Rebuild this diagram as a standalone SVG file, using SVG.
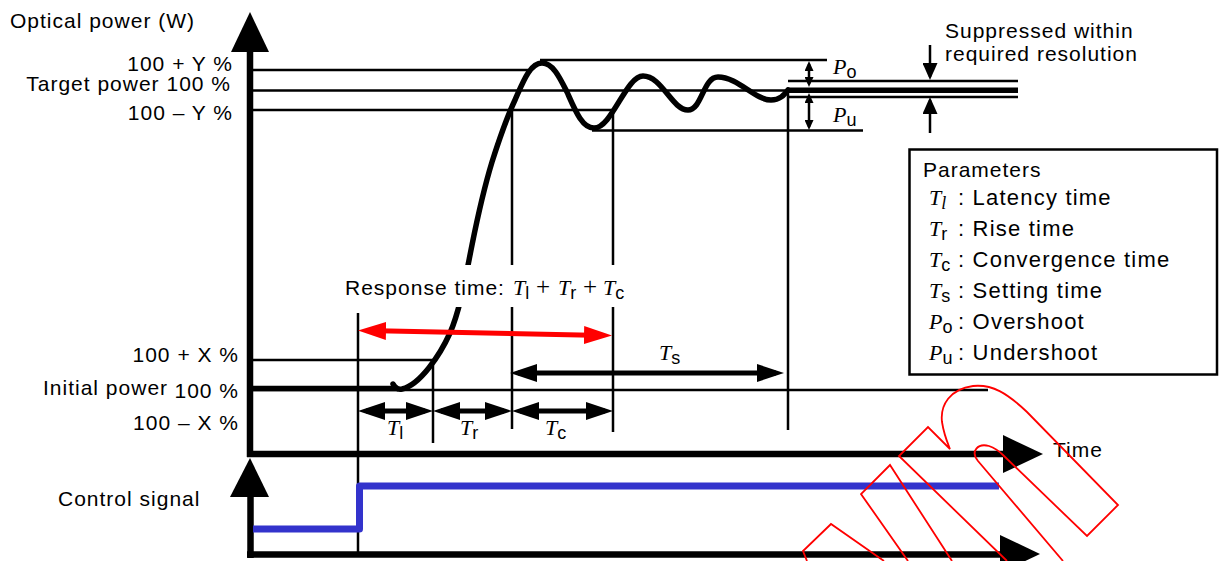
<svg xmlns="http://www.w3.org/2000/svg" width="1219" height="561" viewBox="0 0 1219 561">
<style>
.s{font-family:"Liberation Sans",Arial,sans-serif;font-size:21px;letter-spacing:1px;fill:#000}
.p{font-size:22px;letter-spacing:1.2px}
.i{font-family:"Liberation Serif","Times New Roman",serif;font-style:italic;font-size:22px;letter-spacing:0}
.pl{font-family:"Liberation Serif","Times New Roman",serif;font-style:normal;font-size:25px;letter-spacing:0}
.sub{font-size:18px}
.subs{font-family:"Liberation Sans",Arial,sans-serif;font-style:normal;font-size:18px;letter-spacing:0}
.thin{stroke:#000;stroke-width:2.5;fill:none}
.thick{stroke:#000;stroke-width:5.5;fill:none}
.axis{stroke:#000;stroke-width:6.5;fill:none}
.big{stroke:#000;stroke-width:5;fill:none;marker-start:url(#ab);marker-end:url(#ab)}
.red{stroke:#ff0000;stroke-width:5;fill:none;marker-start:url(#ar);marker-end:url(#ar)}
.wm{stroke:#ff0000;stroke-width:1.8;fill:none;stroke-linejoin:miter}
</style>
<defs>
<marker id="ab" markerUnits="userSpaceOnUse" markerWidth="27" markerHeight="18" viewBox="0 0 27 18" refX="19" refY="9" orient="auto-start-reverse"><path d="M0,0L27,9L0,18z" fill="#000"/></marker>
<marker id="ar" markerUnits="userSpaceOnUse" markerWidth="28" markerHeight="18" viewBox="0 0 28 18" refX="20" refY="9" orient="auto-start-reverse"><path d="M0,0L28,9L0,18z" fill="#ff0000"/></marker>
<marker id="as" markerUnits="userSpaceOnUse" markerWidth="10" markerHeight="9" viewBox="0 0 10 9" refX="7" refY="4.5" orient="auto-start-reverse"><path d="M0,0L10,4.5L0,9z" fill="#000"/></marker>
<marker id="am" markerUnits="userSpaceOnUse" markerWidth="17" markerHeight="15" viewBox="0 0 17 15" refX="14" refY="7.5" orient="auto"><path d="M0,0L17,7.5L0,15z" fill="#000"/></marker>
</defs>

<g id="axes">
<line class="axis" x1="250" y1="48" x2="250" y2="457"/>
<line class="axis" x1="247" y1="454" x2="1005" y2="454"/>
<polygon points="250,12 231,52 269,52" fill="#000"/>
<polygon points="1003,435 1043,454 1003,473" fill="#000"/>
<line class="axis" x1="250.5" y1="494" x2="250.5" y2="558" stroke-width="7"/>
<line class="axis" x1="247" y1="554.5" x2="1002" y2="554.5" stroke-width="7"/>
<polygon points="250,458 230,497 269,497" fill="#000"/>
<polygon points="1000,535 1040,554 1000,573" fill="#000"/>
</g>

<g id="levels">
<line class="thin" x1="253" y1="70" x2="528" y2="70"/>
<line class="thin" x1="253" y1="90.5" x2="1018" y2="90.5"/>
<line class="thin" x1="253" y1="110" x2="613" y2="110"/>
<line class="thin" x1="540" y1="60" x2="827" y2="60"/>
<line class="thin" x1="592" y1="130.5" x2="863" y2="130.5"/>
<line class="thin" x1="788" y1="81" x2="1018" y2="81"/>
<line class="thin" x1="788" y1="97" x2="1018" y2="97"/>
<line class="thick" x1="788" y1="90.3" x2="1018" y2="90.3" stroke-width="6"/>
<line class="thin" x1="253" y1="360" x2="433" y2="360"/>
<line class="thin" x1="253" y1="390" x2="988" y2="390"/>
<line class="thick" x1="253" y1="388.5" x2="398" y2="388.5"/>
</g>

<g id="verticals">
<line class="thin" x1="358" y1="313" x2="358" y2="557"/>
<line class="thin" x1="433" y1="360" x2="433" y2="443"/>
<line class="thin" x1="512" y1="110" x2="512" y2="429"/>
<line class="thin" x1="613" y1="110" x2="613" y2="432"/>
<line class="thin" x1="788" y1="90" x2="788" y2="430"/>
</g>

<g id="curve">
<path class="thick" stroke-width="5" stroke-linecap="round" d="M393,384 Q396,390 402,389 C420,385 440,355 450,333 C460,310 465,280 472,245 C478,215 485,185 492,162 C500,137 507,117 515,100 C523,82 530,63 542,63 C553,63 560,78 567,92 C575,110 582,128 594,128 C612,128 626,76 643,76 C662,76 672,110 688,110 C702,110 703,77 718,77 C738,77 755,100 771,100 C780,100 784,95 788,90"/>
</g>

<g id="response-label">
<rect x="338" y="265" width="300" height="42" fill="#fff"/>
<text class="s" x="345" y="295">Response time: <tspan class="i" x="513">T</tspan><tspan class="subs" dy="4">l</tspan><tspan class="pl" x="536" dy="-4">+</tspan><tspan class="i" x="558">T</tspan><tspan class="subs" dy="4">r</tspan><tspan class="pl" x="583" dy="-4">+</tspan><tspan class="i" x="603">T</tspan><tspan class="subs" dy="4">c</tspan></text>
</g>

<g id="connectors">
<line class="red" x1="366" y1="330.6" x2="604" y2="335.4"/>
<line class="big" x1="518" y1="373" x2="776" y2="373"/>
<line class="big" x1="366" y1="411" x2="425" y2="411"/>
<line class="big" x1="441" y1="411" x2="504" y2="411"/>
<line class="big" x1="520" y1="411" x2="605" y2="411"/>
<line class="thin" x1="809" y1="64" x2="809" y2="84" marker-start="url(#as)" marker-end="url(#as)"/>
<line class="thin" x1="809" y1="96" x2="809" y2="127" marker-start="url(#as)" marker-end="url(#as)"/>
<line class="thin" x1="930" y1="45" x2="930" y2="77" marker-end="url(#am)"/>
<line class="thin" x1="930" y1="133" x2="930" y2="100" marker-end="url(#am)"/>
</g>

<g id="control-signal">
<path d="M253,529 L359.5,529 L359.5,486 L999,486" fill="none" stroke="#3333cc" stroke-width="7" stroke-linejoin="round"/>
</g>

<g id="labels">
<text class="s" x="10" y="28">Optical power (W)</text>
<text class="s" x="233" y="71" text-anchor="end">100 + Y %</text>
<text class="s" x="231" y="91" text-anchor="end">Target power 100 %</text>
<text class="s" x="233" y="120" text-anchor="end">100 – Y %</text>
<text class="s" x="239" y="362" text-anchor="end">100 + X %</text>
<text class="s" x="43" y="395">Initial power</text>
<text class="s" x="239" y="398" text-anchor="end">100 %</text>
<text class="s" x="239" y="430" text-anchor="end">100 – X %</text>
<text class="s" x="58" y="506">Control signal</text>
<text class="s" x="1053" y="457">Time</text>
<text class="s" x="945" y="38">Suppressed within</text>
<text class="s" x="945" y="61">required resolution</text>
<text class="s" x="833" y="74"><tspan class="i">P</tspan><tspan class="subs" dy="4">o</tspan></text>
<text class="s" x="833" y="122"><tspan class="i">P</tspan><tspan class="subs" dy="4">u</tspan></text>
<text class="s" x="659" y="360"><tspan class="i">T</tspan><tspan class="subs" dy="4">s</tspan></text>
<text class="s" x="387" y="435"><tspan class="i">T</tspan><tspan class="subs" dy="4">l</tspan></text>
<text class="s" x="460" y="435"><tspan class="i">T</tspan><tspan class="subs" dy="4">r</tspan></text>
<text class="s" x="545" y="435"><tspan class="i">T</tspan><tspan class="subs" dy="4">c</tspan></text>
</g>

<g id="parameters">
<rect x="909.5" y="149.5" width="307.5" height="225" fill="#fff" stroke="#000" stroke-width="2.5"/>
<text class="s" x="923" y="177">Parameters</text>
<text class="s p" x="929" y="205"><tspan class="i">T</tspan><tspan class="i sub" dy="4">l</tspan><tspan x="958" dy="-4">: Latency time</tspan></text>
<text class="s p" x="929" y="236"><tspan class="i">T</tspan><tspan class="subs" dy="4">r</tspan><tspan x="958" dy="-4">: Rise time</tspan></text>
<text class="s p" x="929" y="267"><tspan class="i">T</tspan><tspan class="subs" dy="4">c</tspan><tspan x="958" dy="-4">: Convergence time</tspan></text>
<text class="s p" x="929" y="298"><tspan class="i">T</tspan><tspan class="subs" dy="4">s</tspan><tspan x="958" dy="-4">: Setting time</tspan></text>
<text class="s p" x="929" y="329"><tspan class="i">P</tspan><tspan class="subs" dy="4">o</tspan><tspan x="958" dy="-4">: Overshoot</tspan></text>
<text class="s p" x="929" y="360"><tspan class="i">P</tspan><tspan class="subs" dy="4">u</tspan><tspan x="958" dy="-4">: Undershoot</tspan></text>
</g>

<g id="red-outline">
<path class="wm" d="M1063,561 L978,461 C970,451 978,443 989,446 C995,448 999,451 1003,455 L1087,536 L1118,505 L1027,412 C1007,393 992,384 973,386 C950,389 940,405 942,422 C944,435 948,444 950,449 L928,427 L899,456 L1007,561"/>
<path class="wm" d="M952,561 L890,465 L861,494 L908,561"/>
<path class="wm" d="M884,561 L831,524 L803,551 L807,561"/>
</g>
</svg>
